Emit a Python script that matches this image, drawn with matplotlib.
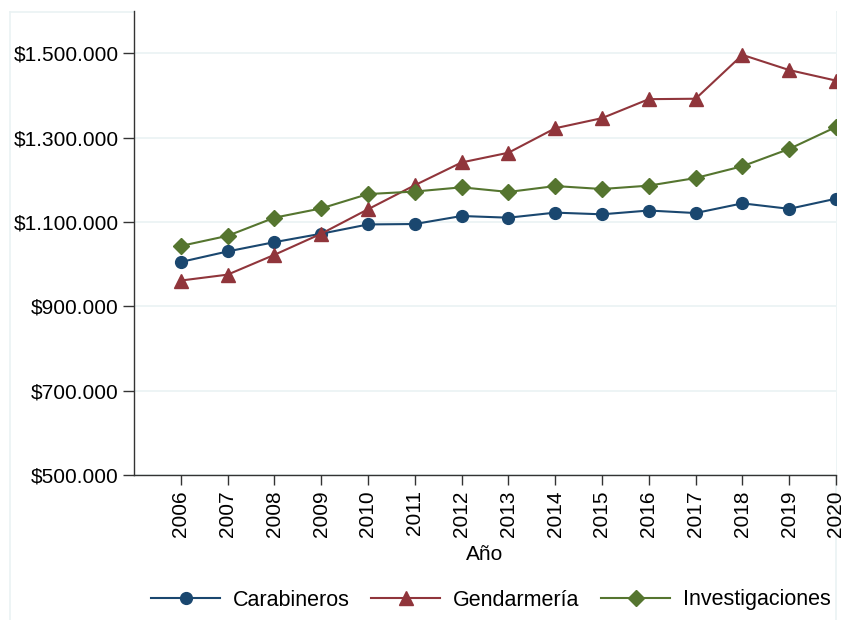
import matplotlib
matplotlib.use("Agg")
import matplotlib.pyplot as plt
from matplotlib.lines import Line2D
from matplotlib.ticker import FuncFormatter

plt.rcParams['font.family'] = ['Liberation Sans', 'DejaVu Sans']

years = list(range(2006, 2021))
carabineros = [1005000, 1030000, 1052000, 1072000, 1094000, 1095000, 1114000, 1110000,
               1122000, 1118000, 1127000, 1121000, 1144000, 1131000, 1155000]
gendarmeria = [961000, 975000, 1022000, 1072000, 1130000, 1187000, 1241000, 1264000,
               1322000, 1346000, 1391000, 1392000, 1496000, 1460000, 1435000]
investigaciones = [1043000, 1067000, 1110000, 1132000, 1166000, 1172000, 1182000, 1171000,
                   1185000, 1178000, 1186000, 1204000, 1232000, 1273000, 1325000]
yticks = [500000, 700000, 900000, 1100000, 1300000, 1500000]
series_names = ['Carabineros', 'Gendarmería', 'Investigaciones']

W, H = 844, 620
fig = plt.figure(figsize=(W / 100, H / 100), dpi=100)
ax = fig.add_axes([134 / W, 1 - 475 / H, (836 - 134) / W, (475 - 11) / H])

grid_c = '#EAF2F3'
fs = 15

ax.plot(years, carabineros, color='#1A476F', lw=1.5, marker='o', ms=8.5, label=series_names[0], zorder=3)
ax.plot(years, gendarmeria, color='#90353B', lw=1.5, marker='^', ms=9.5, label=series_names[1], zorder=3)
ax.plot(years, investigaciones, color='#55752F', lw=1.5, marker='D', ms=8, label=series_names[2], zorder=3)

ax.set_xlim(2005, 2020)
ax.set_ylim(500000, 1600000)
ax.set_xticks(years)
ax.set_xticklabels([str(y) for y in years], rotation=90, fontsize=fs)
ax.set_yticks(yticks)
ax.yaxis.set_major_formatter(FuncFormatter(lambda v, p: '$' + f'{int(v):,}'.replace(',', '.')))
ax.tick_params(axis='y', labelsize=fs, length=8, width=1.0, color='#333333', pad=3)
ax.tick_params(axis='x', labelsize=fs, length=7, width=1.0, color='#333333', pad=4)
ax.grid(axis='y', color=grid_c, lw=1.2, zorder=0)
ax.set_axisbelow(True)
for s in ['top', 'right']:
    ax.spines[s].set_visible(False)
for s in ['left', 'bottom']:
    ax.spines[s].set_color('#333333')
    ax.spines[s].set_linewidth(1.0)

ax.set_xlabel('Año', fontsize=fs, labelpad=6)

# faint outer frame
fig.add_artist(Line2D([10 / W, 10 / W], [0, 1 - 12 / H], color=grid_c, lw=1.2, transform=fig.transFigure))
fig.add_artist(Line2D([10 / W, 836 / W], [1 - 12 / H, 1 - 12 / H], color=grid_c, lw=1.2, transform=fig.transFigure, zorder=0))
fig.add_artist(Line2D([836 / W, 836 / W], [0, 1 - 12 / H], color=grid_c, lw=1.2, transform=fig.transFigure, zorder=0))

fig.legend(loc='center', bbox_to_anchor=(491 / W, 1 - 600 / H), ncol=3, frameon=False,
           fontsize=15.5, handlelength=3.2, handletextpad=0.6, columnspacing=1.0)

fig.savefig('out.png', dpi=100)
